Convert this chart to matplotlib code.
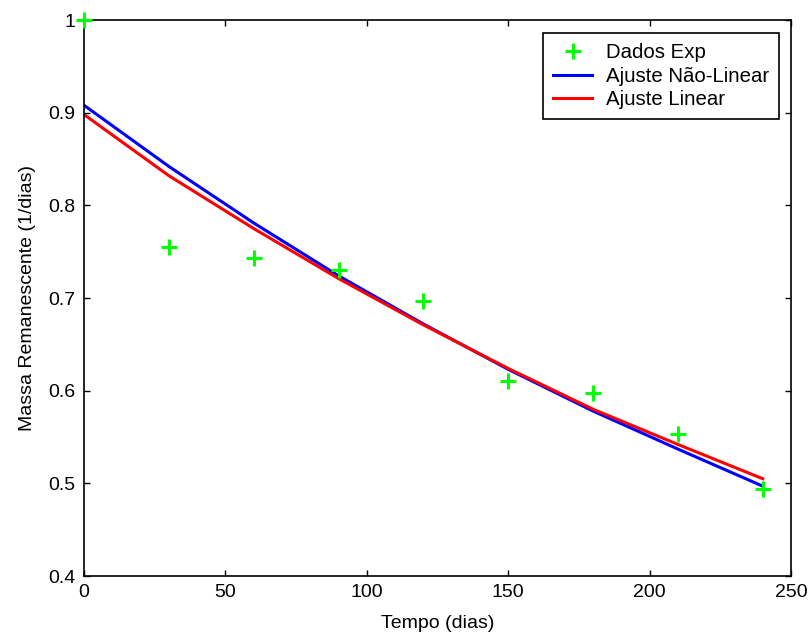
import numpy as np
from matplotlib import pyplot as plt

# experimental data
tempo = [0, 30, 60, 90, 120, 150, 180, 210, 240]
massa = [1.0, 0.755, 0.743, 0.730, 0.697, 0.610, 0.598, 0.553, 0.494]

t_fit = [0, 30, 60, 90, 120, 150, 180, 210, 240]
ajuste_nl = [0.908, 0.842, 0.781, 0.724, 0.672, 0.623, 0.578, 0.537, 0.497]
ajuste_lin = [0.898, 0.832, 0.775, 0.721, 0.671, 0.624, 0.580, 0.542, 0.505]

plt.rcParams['font.family'] = ['Liberation Sans', 'DejaVu Sans']
plt.rcParams['font.size'] = 14

fig = plt.figure(figsize=(8.08, 6.36), dpi=100)
ax = fig.add_axes([0.104, 0.0943, 0.875, 0.8742])

ax.plot(tempo, massa, '+', color='#00ff00', markersize=11, markeredgewidth=2.2,
        label='Dados Exp', clip_on=False, zorder=4)
ax.plot(t_fit, ajuste_nl, color='#0000ff', linewidth=2.2, label='Ajuste Não-Linear')
ax.plot(t_fit, ajuste_lin, color='#ff0000', linewidth=2.2, label='Ajuste Linear')

ax.set_xlim(0, 250)
ax.set_ylim(0.4, 1.0)
ax.set_xticks([0, 50, 100, 150, 200, 250])
ax.set_yticks([0.4, 0.5, 0.6, 0.7, 0.8, 0.9, 1.0])
ax.set_yticklabels(['0.4', '0.5', '0.6', '0.7', '0.8', '0.9', '1'])
ax.tick_params(direction='in', top=True, right=True, length=4.5, width=1, pad=6)
for s in ax.spines.values():
    s.set_linewidth(1.2)

ax.set_xlabel('Tempo (dias)', labelpad=10)
ax.set_ylabel('Massa Remanescente (1/dias)', labelpad=9)

leg = ax.legend(loc='upper right', bbox_to_anchor=(0.983, 0.9766), fancybox=False,
                edgecolor='black', framealpha=1, fontsize=14.7, borderpad=0.5,
                labelspacing=0.22, handlelength=1.9, handletextpad=0.67, borderaxespad=0)
leg.get_frame().set_linewidth(1.2)

fig.savefig('out.png', dpi=100)
